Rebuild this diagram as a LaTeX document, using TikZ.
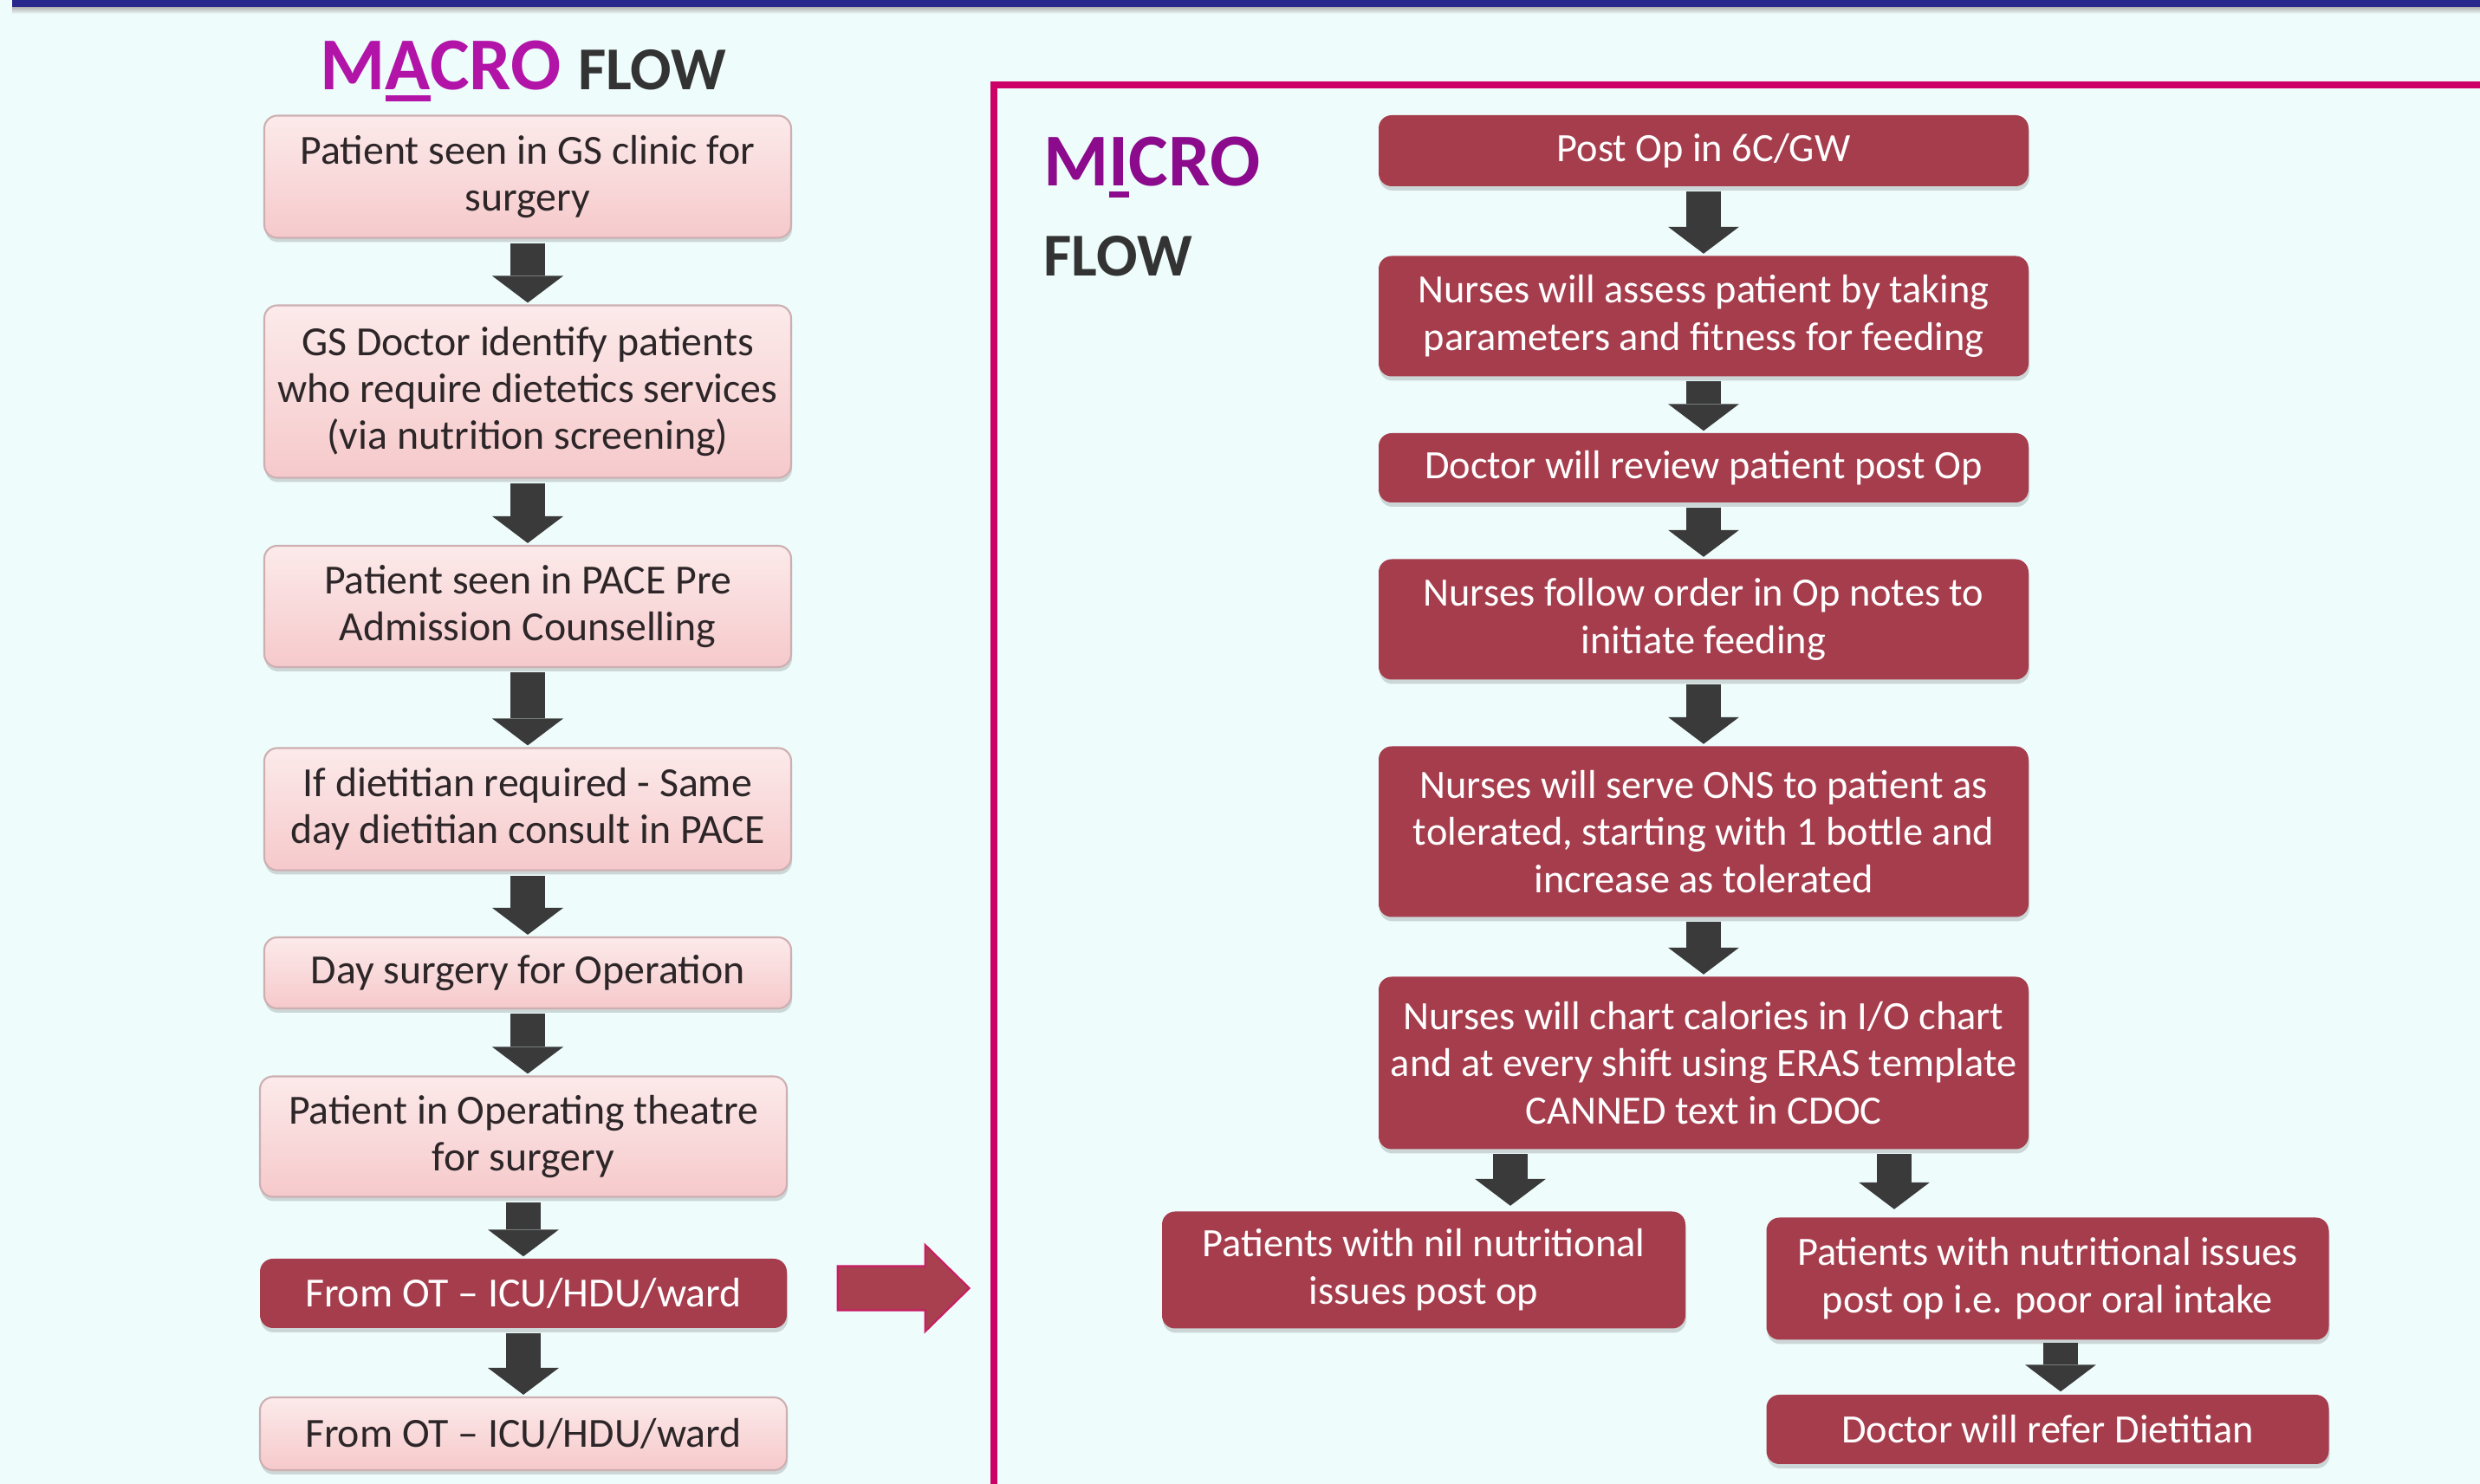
\documentclass[tikz,border=0pt]{standalone}
\usepackage{fontspec}
\setmainfont{Carlito}
\usepackage{tikz}
\usetikzlibrary{arrows.meta}
\usetikzlibrary{shadows}
\usetikzlibrary{calc}

\definecolor{bgcyan}{RGB}{238,252,252}
\definecolor{boxred}{RGB}{166,61,77}
\definecolor{pinktop}{RGB}{252,234,234}
\definecolor{pinkbot}{RGB}{246,201,203}
\definecolor{pinkedge}{RGB}{205,175,178}
\definecolor{arrowgrey}{RGB}{58,58,58}
\definecolor{framemag}{RGB}{204,0,102}
\definecolor{macmag}{RGB}{178,20,168}
\definecolor{micmag}{RGB}{140,10,140}
\definecolor{titlegrey}{RGB}{51,51,51}
\definecolor{navybar}{RGB}{40,40,140}
\definecolor{textdark}{RGB}{45,38,40}
\definecolor{bigarrfill}{RGB}{168,64,80}
\definecolor{bigarredge}{RGB}{200,30,100}

\newcommand{\ulletter}[1]{\setbox0\hbox{#1}\rlap{\vrule height -1.8pt depth 3.7pt width \wd0}#1}

\begin{document}
\begin{tikzpicture}[
	box/.style={rectangle, rounded corners=0.15cm, align=center, inner sep=0pt, drop shadow={shadow xshift=0.01cm, shadow yshift=-0.05cm, opacity=0.3}},
	light/.style={box, draw=pinkedge, line width=0.6pt, top color=pinktop, bottom color=pinkbot, text=textdark, minimum width=6.08cm, font=\fontsize{13.6}{15.3}\selectfont},
	dark/.style={box, fill=boxred, text=white, minimum width=7.5cm, font=\fontsize{13.2}{15.6}\selectfont},
	down/.style={draw=arrowgrey, line width=0.4cm, -{Triangle[length=0.31cm, width=0.82cm, line width=0pt]}},
]
	\useasboundingbox (0,0) rectangle (28.62,-17.13);
	\fill[bgcyan] (0,0) rectangle (28.62,-17.13);
	\fill[navybar] (0.14,0) rectangle (28.62,-0.09);
	\shade[top color=gray!55, bottom color=bgcyan] (0.14,-0.09) rectangle (28.62,-0.16);

	\node[anchor=base west, inner sep=0pt] (macro) at (3.69,-1.04) {\fontsize{24.5}{30}\selectfont\bfseries\color{macmag}M\ulletter{A}CRO {\fontsize{20}{24}\selectfont\color{titlegrey}FLOW}};
	\node[anchor=base west, inner sep=0pt] (micro) at (12.04,-2.15) {\fontsize{24.5}{30}\selectfont\bfseries\color{micmag}M\ulletter{I}CRO};
	\node[anchor=base west, inner sep=0pt] (microflow) at (12.04,-3.19) {\fontsize{20}{24}\selectfont\bfseries\color{titlegrey}FLOW};

	\draw[framemag, line width=0.08cm] (11.47,-17.13) -- (11.47,-0.98) -- (28.62,-0.98);

	\node[light, minimum height=1.41cm] (a1) at (6.09,-2.04) {Patient seen in GS clinic for\\surgery};
	\node[light, minimum height=1.99cm] (a2) at (6.09,-4.52) {GS Doctor identify patients\\who require dietetics services\\(via nutrition screening)};
	\node[light, minimum height=1.40cm] (a3) at (6.09,-7.00) {Patient seen in PACE Pre\\Admission Counselling};
	\node[light, minimum height=1.41cm] (a4) at (6.09,-9.34) {If dietitian required - Same\\day dietitian consult in PACE};
	\node[light, minimum height=0.82cm] (a5) at (6.09,-11.23) {Day surgery for Operation};
	\node[light, minimum height=1.39cm] (a6) at (6.04,-13.12) {Patient in Operating theatre\\for surgery};
	\node[dark, minimum width=6.08cm, minimum height=0.80cm, font=\fontsize{13.6}{15.3}\selectfont] (a7) at (6.04,-14.93) {From OT -- ICU/HDU/ward};
	\node[light, minimum height=0.84cm] (a8) at (6.04,-16.55) {From OT -- ICU/HDU/ward};

	\node[dark, minimum height=0.82cm] (m1) at (19.66,-1.74) {Post Op in 6C/GW};
	\node[dark, minimum height=1.39cm] (m2) at (19.66,-3.65) {Nurses will assess patient by taking\\parameters and fitness for feeding};
	\node[dark, minimum height=0.80cm] (m3) at (19.66,-5.40) {Doctor will review patient post Op};
	\node[dark, minimum height=1.39cm] (m4) at (19.66,-7.15) {Nurses follow order in Op notes to\\initiate feeding};
	\node[dark, minimum height=1.97cm] (m5) at (19.66,-9.60) {Nurses will serve ONS to patient as\\tolerated, starting with 1 bottle and\\increase as tolerated};
	\node[dark, minimum height=1.99cm] (m6) at (19.66,-12.27) {Nurses will chart calories in I/O chart\\and at every shift using ERAS template\\CANNED text in CDOC};
	\node[dark, minimum width=6.04cm, minimum height=1.35cm] (m7) at (16.43,-14.66) {Patients with nil nutritional\\issues post op};
	\node[dark, minimum width=6.49cm, minimum height=1.41cm] (m8) at (23.63,-14.76) {Patients with nutritional issues\\post op i.e. poor oral intake};
	\node[dark, minimum width=6.49cm, minimum height=0.80cm] (m9) at (23.63,-16.50) {Doctor will refer Dietitian};

	\foreach \u/\v in {a1/a2, a2/a3, a3/a4, a4/a5, a5/a6, a6/a7, a7/a8, m1/m2, m2/m3, m3/m4, m4/m5, m5/m6}
		\draw[down] ([yshift=-0.05cm]\u.south) -- ([yshift=0.02cm]\u.south |- \v.north);

	\coordinate (sl) at ($(m6.south)+(-2.23,-0.05)$);
	\coordinate (sr) at ($(m6.south)+(2.20,-0.05)$);
	\coordinate (sd) at ($(m8.south)+(0.15,-0.03)$);
	\draw[down] (sl) -- ([yshift=0.06cm]sl |- m7.north);
	\draw[down] (sr) -- ([yshift=0.09cm]sr |- m8.north);
	\draw[down] (sd) -- ([yshift=0.03cm]sd |- m9.north);

	\draw[fill=bigarrfill, draw=bigarredge, line width=0.6pt] ([xshift=0.58cm, yshift=0.06cm]a7.east) ++(0,0.255) -- ++(1.01,0) -- ++(0,0.245) -- ++(0.51,-0.5) -- ++(-0.51,-0.5) -- ++(0,0.245) -- ++(-1.01,0) -- cycle;
\end{tikzpicture}
\end{document}
